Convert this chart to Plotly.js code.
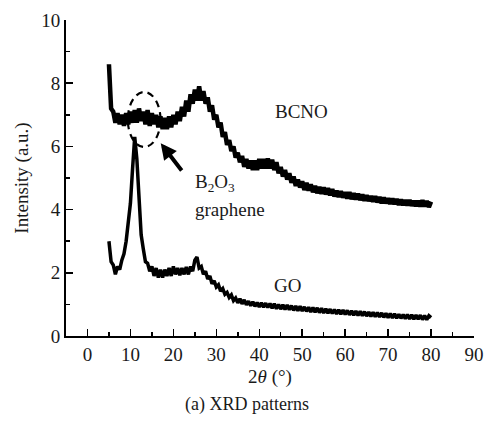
<!DOCTYPE html>
<html><head><meta charset="utf-8">
<script src="https://cdn.plot.ly/plotly-3.0.1.min.js"></script>
<style>body{margin:0;background:#fff}#c{width:487px;height:421px}</style>
</head><body><div id="c"></div>
<script>
// Both patterns are sampled every 0.5 degree (2θ) starting at 5 degrees
const startAngle = 5;
const angleStep = 0.5;
const bcnoY = [8.6,7.2,7.1,6.75,7.05,6.7,7.0,6.65,7.05,6.7,7.1,6.75,7.15,6.75,7.2,6.8,7.1,6.7,7.15,6.65,7.05,6.7,7.0,6.6,6.95,6.55,6.9,6.55,6.95,6.6,
  7.0,6.7,7.1,6.8,7.25,6.95,7.45,7.1,7.65,7.35,7.8,7.45,7.9,7.45,7.75,7.35,7.55,7.1,7.3,6.85,
  7.0,6.6,6.75,6.3,6.45,6.05,6.2,5.85,6.0,5.65,5.8,5.5,5.7,5.35,5.6,5.3,5.55,5.25,5.55,5.25,
  5.6,5.3,5.6,5.3,5.62,5.3,5.58,5.25,5.5,5.15,5.35,5.05,5.25,4.95,5.15,4.85,5.05,4.75,4.95,4.7,
  4.9,4.62,4.85,4.6,4.8,4.55,4.75,4.52,4.72,4.5,4.7,4.48,4.68,4.45,4.65,4.42,4.6,4.4,4.58,4.38,
  4.55,4.35,4.55,4.33,4.52,4.32,4.5,4.3,4.48,4.28,4.45,4.27,4.43,4.25,4.42,4.23,4.4,4.2,4.38,4.2,
  4.36,4.18,4.35,4.17,4.33,4.15,4.32,4.14,4.3,4.13,4.3,4.12,4.28,4.11,4.28,4.1,4.3,4.1,4.27,4.08,4.25];
const goY = [3.0,2.35,2.25,1.95,2.2,2.1,2.4,2.6,3.0,3.5,4.2,5.3,6.3,5.6,4.2,3.2,2.75,2.35,2.3,2.05,2.2,1.9,2.15,1.85,2.1,1.85,2.1,1.9,2.15,1.9,
  2.2,1.95,2.15,1.92,2.15,1.95,2.18,1.95,2.2,2.05,2.4,2.5,2.15,2.2,1.95,2.05,1.8,1.9,1.65,1.75,
  1.55,1.62,1.42,1.5,1.32,1.38,1.22,1.3,1.12,1.2,1.05,1.18,1.02,1.14,0.99,1.1,0.96,1.08,0.94,1.06,
  0.92,1.05,0.91,1.04,0.9,1.03,0.88,1.02,0.86,1.0,0.85,0.99,0.84,0.98,0.83,0.96,0.81,0.95,0.8,0.94,
  0.79,0.92,0.78,0.91,0.76,0.9,0.75,0.89,0.74,0.88,0.73,0.86,0.72,0.85,0.71,0.84,0.7,0.83,0.69,0.82,
  0.68,0.81,0.67,0.8,0.66,0.79,0.65,0.78,0.64,0.77,0.63,0.76,0.62,0.75,0.61,0.74,0.6,0.73,0.59,0.72,
  0.58,0.71,0.57,0.7,0.56,0.69,0.56,0.68,0.55,0.68,0.54,0.67,0.53,0.66,0.53,0.66,0.52,0.65,0.52,0.64,0.58];
const xTicks = [0,10,20,30,40,50,60,70,80,90];
const yTicks = [0,2,4,6,8,10];

const font = '"Times New Roman", "Liberation Serif", "DejaVu Serif", serif';
const txt = '#1a1a1a';
const traces = [
  {y: bcnoY, x0: startAngle, dx: angleStep, mode: 'lines', line: {color: '#000', width: 4.5}, name: 'BCNO'},
  {y: goY, x0: startAngle, dx: angleStep, mode: 'lines', line: {color: '#000', width: 3.5}, name: 'GO'}
];
const layout = {
  width: 487, height: 421,
  margin: {l: 66, r: 13, t: 20, b: 85},
  paper_bgcolor: '#fff', plot_bgcolor: '#fff',
  showlegend: false,
  font: {family: font, color: txt, size: 19},
  xaxis: {
    range: [-5, 90], tickvals: xTicks, ticks: 'inside', ticklen: 7, tickwidth: 1.5, tickcolor: '#000',
    showline: true, linecolor: '#000', linewidth: 2, showgrid: false, zeroline: false,
    minor: {dtick: 5, tick0: 5, ticks: 'inside', ticklen: 4, tickwidth: 1.5, tickcolor: '#000'},
    title: {text: '2<i>θ</i> (°)', font: {family: font, size: 19, color: txt}, standoff: 6},
    tickfont: {family: font, size: 19, color: txt}
  },
  yaxis: {
    range: [0, 10], tickvals: yTicks, ticks: 'inside', ticklen: 7, tickwidth: 1.5, tickcolor: '#000',
    showline: true, linecolor: '#000', linewidth: 2, showgrid: false, zeroline: false,
    minor: {dtick: 1, tick0: 0, ticks: 'inside', ticklen: 4, tickwidth: 1.5, tickcolor: '#000'},
    title: {text: 'Intensity (a.u.)', font: {family: font, size: 19, color: txt}, standoff: 8},
    tickfont: {family: font, size: 19, color: txt}
  },
  shapes: [
    {type: 'circle', xref: 'x', yref: 'y', x0: 9.4, x1: 17.0, y0: 5.98, y1: 7.72,
     line: {color: '#000', width: 2.2, dash: '7px,5px'}}
  ],
  annotations: [
    {x: 49.8, y: 7.09, xref: 'x', yref: 'y', text: 'BCNO', showarrow: false, font: {family: font, size: 19, color: txt}},
    {x: 46.6, y: 1.61, xref: 'x', yref: 'y', text: 'GO', showarrow: false, font: {family: font, size: 19, color: txt}},
    {x: 24.5, y: 4.84, xref: 'x', yref: 'y', xanchor: 'left', text: 'B<sub>2</sub>O<sub>3</sub>', showarrow: false, font: {family: font, size: 19, color: txt}},
    {x: 24.5, y: 3.99, xref: 'x', yref: 'y', xanchor: 'left', text: 'graphene', showarrow: false, font: {family: font, size: 19, color: txt}},
    {x: 17.05, y: 6.1, ax: 22.2, ay: 5.19, xref: 'x', yref: 'y', axref: 'x', ayref: 'y', text: '', showarrow: true,
     arrowhead: 2, arrowsize: 0.8, arrowwidth: 4, arrowcolor: '#000'},
    {x: 0.444, y: -0.218, xref: 'paper', yref: 'paper', yanchor: 'middle', text: '(a) XRD patterns', showarrow: false, font: {family: font, size: 18, color: txt}}
  ]
};
Plotly.newPlot('c', traces, layout, {staticPlot: true, displayModeBar: false});
</script>
</body></html>
